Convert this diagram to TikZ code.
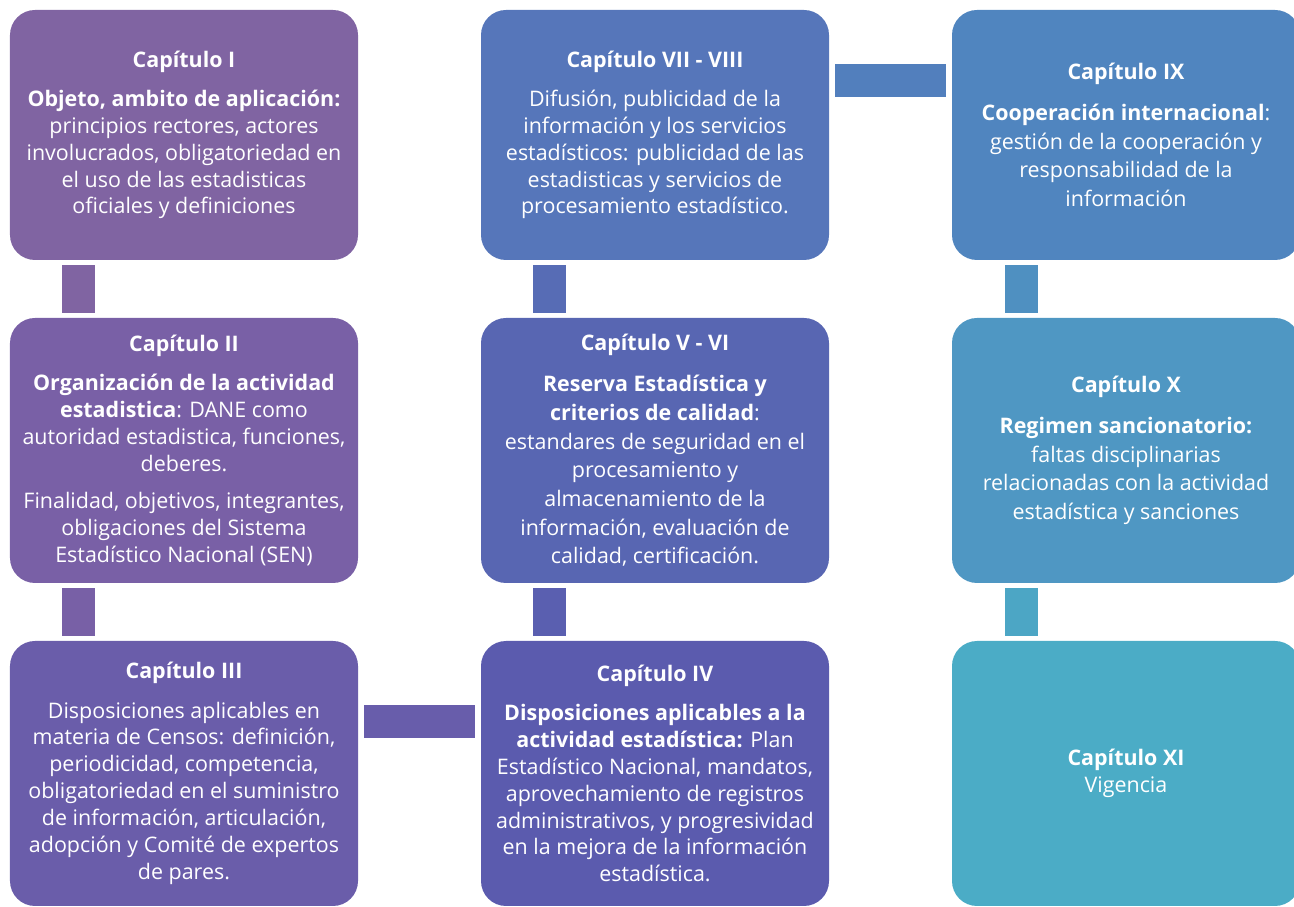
\documentclass[tikz,border=0pt]{standalone}
\usepackage{fontspec}
\setmainfont{Open Sans}
\usepackage{xcolor}
\usepackage{tikz}
\usetikzlibrary{positioning}
\definecolor{capone}{RGB}{128,100,162}
\definecolor{captwo}{RGB}{121,96,166}
\definecolor{capthree}{RGB}{106,93,170}
\definecolor{capfour}{RGB}{91,91,174}
\definecolor{capfive}{RGB}{88,102,178}
\definecolor{capseven}{RGB}{86,118,186}
\definecolor{capnine}{RGB}{80,133,191}
\definecolor{capten}{RGB}{79,151,195}
\definecolor{capeleven}{RGB}{75,172,198}

\begin{document}
\begin{tikzpicture}[
    chapbox/.style={rectangle, rounded corners=0.5cm, minimum width=6.96cm, inner sep=0pt, align=center, text=white, font=\fontsize{12.2}{15.3}\selectfont},
    loose/.style={font=\fontsize{12.2}{16.3}\selectfont},
    bar/.style={line width=0.66cm, line cap=butt, shorten <=0.1cm, shorten >=0.1cm}
]
    \useasboundingbox (0,0) rectangle (25.88,-18.14);

    \node[chapbox, fill=capone, minimum height=5cm] (cap1) at (3.68,-2.70) {\textbf{Capítulo I}\\[7pt]
        \textbf{Objeto, ambito de aplicación:}\\ principios rectores, actores\\ involucrados, obligatoriedad en\\ el uso de las estadisticas\\ oficiales y definiciones};
    \node[chapbox, fill=captwo, minimum height=5.3cm] (cap2) at (3.68,-9.01) {\textbf{Capítulo II}\\[7pt]
        \textbf{Organización de la actividad}\\ \textbf{estadistica}: DANE como\\ autoridad estadistica, funciones,\\ deberes.\\[6pt]
        Finalidad, objetivos, integrantes,\\ obligaciones del Sistema\\ Estadístico Nacional (SEN)};
    \node[chapbox, fill=capthree, minimum height=5.3cm] (cap3) at (3.68,-15.47) {\textbf{Capítulo III}\\[7pt]
        Disposiciones aplicables en\\ materia de Censos: definición,\\ periodicidad, competencia,\\ obligatoriedad en el suministro\\ de información, articulación,\\ adopción y Comité de expertos\\ de pares.};
    \node[chapbox, fill=capfour, minimum height=5.3cm] (cap4) at (13.10,-15.47) {\textbf{Capítulo IV}\\[7pt]
        \textbf{Disposiciones aplicables a la}\\ \textbf{actividad estadística:} Plan\\ Estadístico Nacional, mandatos,\\ aprovechamiento de registros\\ administrativos, y progresividad\\ en la mejora de la información\\ estadística.};
    \node[chapbox, loose, fill=capfive, minimum height=5.3cm] (cap56) at (13.10,-9.01) {\textbf{Capítulo V - VI}\\[7pt]
        \textbf{Reserva Estadística y}\\ \textbf{criterios de calidad}:\\ estandares de seguridad en el\\ procesamiento y\\ almacenamiento de la\\ información, evaluación de\\ calidad, certificación.};
    \node[chapbox, fill=capseven, minimum height=5cm] (cap78) at (13.10,-2.70) {\textbf{Capítulo VII - VIII}\\[7pt]
        Difusión, publicidad de la\\ información y los servicios\\ estadísticos: publicidad de las\\ estadisticas y servicios de\\ procesamiento estadístico.};
    \node[chapbox, loose, fill=capnine, minimum height=5cm] (cap9) at (22.52,-2.70) {\textbf{Capítulo IX}\\[7pt]
        \textbf{Cooperación internacional}:\\ gestión de la cooperación y\\ responsabilidad de la\\ información};
    \node[chapbox, loose, fill=capten, minimum height=5.3cm] (cap10) at (22.52,-9.01) {\textbf{Capítulo X}\\[7pt]
        \textbf{Regimen sancionatorio:}\\ faltas disciplinarias\\ relacionadas con la actividad\\ estadística y sanciones};
    \node[chapbox, fill=capeleven, minimum height=5.3cm] (cap11) at (22.52,-15.47) {\textbf{Capítulo XI}\\ Vigencia};

    \draw[bar, draw=capone] ([xshift=1.37cm]cap1.south west) -- ([xshift=1.37cm]cap2.north west);
    \draw[bar, draw=captwo!92!capthree] ([xshift=1.37cm]cap2.south west) -- ([xshift=1.37cm]cap3.north west);
    \draw[bar, draw=capthree!85!capfour, shorten <=0.12cm, shorten >=0.12cm] ([yshift=-1.62cm]cap3.north east) -- ([yshift=-1.62cm]cap4.north west);
    \draw[bar, draw=capfour!60!capfive] ([xshift=1.38cm]cap56.south west) -- ([xshift=1.38cm]cap4.north west);
    \draw[bar, draw=capfive!60!capseven] ([xshift=1.38cm]cap78.south west) -- ([xshift=1.38cm]cap56.north west);
    \draw[bar, draw=capseven!40!capnine, shorten <=0.12cm, shorten >=0.12cm] ([yshift=-1.42cm]cap78.north east) -- ([yshift=-1.42cm]cap9.north west);
    \draw[bar, draw=capnine!40!capten] ([xshift=1.39cm]cap9.south west) -- ([xshift=1.39cm]cap10.north west);
    \draw[bar, draw=capten!30!capeleven] ([xshift=1.39cm]cap10.south west) -- ([xshift=1.39cm]cap11.north west);
\end{tikzpicture}
\end{document}
